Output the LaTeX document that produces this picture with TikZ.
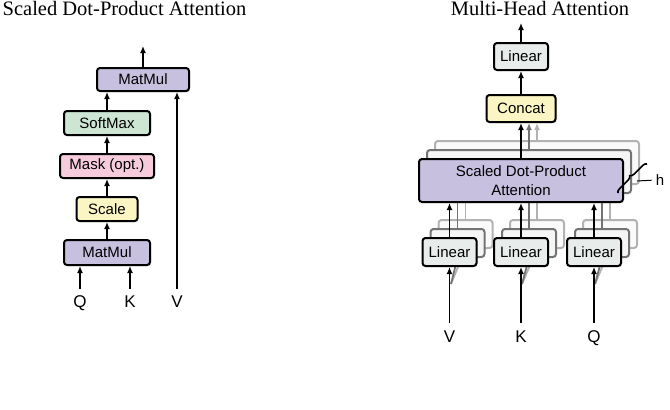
\documentclass[tikz,border=0pt]{standalone}
\usepackage{fontspec}
\setmainfont{Liberation Serif}
\setsansfont{Liberation Sans}
\usepackage{xcolor}
\usepackage{tikz}
\usetikzlibrary{positioning}
\usetikzlibrary{arrows.meta}
\usetikzlibrary{shadows}
\usetikzlibrary{decorations.pathreplacing}

\definecolor{matmulc}{HTML}{C7C0DF}
\definecolor{softmaxc}{HTML}{CDE6D4}
\definecolor{maskc}{HTML}{F6CCDC}
\definecolor{scalec}{HTML}{FBF5C4}
\definecolor{linearc}{HTML}{E8ECEA}

\begin{document}
\begin{tikzpicture}[x=1pt,y=-1pt]

    % Custom styles for boxes, arrows and texts
    \tikzstyle{block} = [draw, line width=2pt, rounded corners=3pt, inner sep=0pt, align=center,
        font=\fontsize{15}{19}\selectfont\sffamily,
        drop shadow={opacity=0.25, shadow xshift=1.2pt, shadow yshift=-1.2pt}]
    \tikzstyle{ghostnear} = [draw=black!55, fill=black!4, line width=2pt, rounded corners=3pt, inner sep=0pt]
    \tikzstyle{ghostfar} = [draw=black!30, fill=black!2, line width=2pt, rounded corners=3pt, inner sep=0pt]
    \tikzstyle{flow} = [-{Latex[length=7pt,width=6pt]}, line width=1.8pt]
    \tikzstyle{letter} = [font=\fontsize{17}{20}\selectfont\sffamily, inner sep=0pt, text height=12pt, text depth=0pt]
    \tikzstyle{title} = [font=\fontsize{20.5}{24}\selectfont, anchor=base]

    \useasboundingbox (0,0) rectangle (670,410);

    % Titles
    \node[title] (ttlleft) at (124.5,15) {Scaled Dot-Product Attention};
    \node[title] (ttlright) at (540,15) {Multi-Head Attention};

    % Define nodes: scaled dot-product attention
    \node[block, fill=matmulc, minimum width=92pt, minimum height=23pt] (matmulb) at (143,79.5) {MatMul};
    \node[block, fill=softmaxc, minimum width=86pt, minimum height=24pt] (softmax) at (107,123) {SoftMax};
    \node[block, fill=maskc, minimum width=94pt, minimum height=24pt] (mask) at (107,166) {Mask (opt.)};
    \node[block, fill=scalec, minimum width=61pt, minimum height=24pt] (scale) at (107,209) {Scale};
    \node[block, fill=matmulc, minimum width=86pt, minimum height=25pt] (matmula) at (107,252.5) {MatMul};
    \node[letter] (q) at (80,301) {Q};
    \node[letter] (k) at (130,301) {K};
    \node[letter] (v) at (177,301) {V};
    \coordinate (outleft) at (143,46);

    % Connect nodes
    \draw[flow, shorten <=6pt] (q.north) -- (q.north |- matmula.south);
    \draw[flow, shorten <=6pt] (k.north) -- (k.north |- matmula.south);
    \draw[flow, shorten <=6pt] (v.north) -- (v.north |- matmulb.south);
    \draw[flow] (matmula) -- (scale);
    \draw[flow] (scale) -- (mask);
    \draw[flow] (mask) -- (softmax);
    \draw[flow] (softmax.north) -- (softmax.north |- matmulb.south);
    \draw[flow] (matmulb) -- (outleft);

    % Define nodes: multi-head attention, far copies first
    \node[ghostfar, minimum width=204pt, minimum height=43pt] (attnfar) at (537,162.5) {};
    \node[ghostfar, minimum width=54pt, minimum height=28pt] (linvfar) at (465.5,234) {};
    \node[ghostfar, minimum width=54pt, minimum height=28pt] (linkfar) at (537,234) {};
    \node[ghostfar, minimum width=54pt, minimum height=28pt] (linqfar) at (610,234) {};
    \draw[flow, black!30] (linvfar) -- (linvfar |- attnfar.south);
    \draw[flow, black!30] (linkfar) -- (linkfar |- attnfar.south);
    \draw[flow, black!30] (linqfar) -- (linqfar |- attnfar.south);

    \node[ghostnear, minimum width=204pt, minimum height=43pt] (attnnear) at (529,171.5) {};
    \node[ghostnear, minimum width=54pt, minimum height=28pt] (linvnear) at (457.5,243) {};
    \node[ghostnear, minimum width=54pt, minimum height=28pt] (linknear) at (529,243) {};
    \node[ghostnear, minimum width=54pt, minimum height=28pt] (linqnear) at (602,243) {};
    \draw[flow, black!55] (linvnear) -- (linvnear |- attnnear.south);
    \draw[flow, black!55] (linknear) -- (linknear |- attnnear.south);
    \draw[flow, black!55] (linqnear) -- (linqnear |- attnnear.south);

    % Inputs fanning out to the copies
    \coordinate (vfork) at (451,284);
    \coordinate (kfork) at (522,284);
    \coordinate (qfork) at (595,284);
    \draw[line width=1.8pt, black!30] (vfork) -- (linvfar.south);
    \draw[line width=1.8pt, black!30] (kfork) -- (linkfar.south);
    \draw[line width=1.8pt, black!30] (qfork) -- (linqfar.south);
    \draw[line width=1.8pt, black!55] (vfork) -- (linvnear.south);
    \draw[line width=1.8pt, black!55] (kfork) -- (linknear.south);
    \draw[line width=1.8pt, black!55] (qfork) -- (linqnear.south);

    % Front copies
    \node[block, fill=matmulc, minimum width=204pt, minimum height=43pt] (attn) at (521,180.5) {Scaled Dot-Product\\Attention};
    \node[block, fill=linearc, minimum width=54pt, minimum height=28pt] (linv) at (449.5,252) {Linear};
    \node[block, fill=linearc, minimum width=54pt, minimum height=28pt] (link) at (521,252) {Linear};
    \node[block, fill=linearc, minimum width=54pt, minimum height=28pt] (linq) at (594,252) {Linear};
    \node[block, fill=scalec, minimum width=69pt, minimum height=27pt] (concat) at (521,108.5) {Concat};
    \node[block, fill=linearc, minimum width=54pt, minimum height=27pt] (lintop) at (521,56.5) {Linear};
    \node[letter] (vin) at (449.5,336) {V};
    \node[letter] (kin) at (521,336) {K};
    \node[letter] (qin) at (594,336) {Q};
    \coordinate (outright) at (521,23);

    % Connect nodes
    \draw[flow, shorten <=7pt] (vin.north) -- (linv.south);
    \draw[flow, shorten <=7pt] (kin.north) -- (link.south);
    \draw[flow, shorten <=7pt] (qin.north) -- (linq.south);
    \draw[flow] (linv) -- (linv |- attn.south);
    \draw[flow] (link) -- (link |- attn.south);
    \draw[flow] (linq) -- (linq |- attn.south);
    \draw[flow, black!30] (attnfar.north -| 537,0) -- (537,0 |- concat.south);
    \draw[flow, black!55] (attnnear.north -| 529,0) -- (529,0 |- concat.south);
    \draw[flow] (attn) -- (concat);
    \draw[flow] (concat) -- (lintop);
    \draw[flow] (lintop) -- (outright);

    % Brace for the h heads
    \draw[decorate, decoration={brace, amplitude=4pt}, line width=1.6pt] (618,193) -- (647,164);
    \coordinate (hbrace) at (637,181);
    \node[font=\fontsize{15}{18}\selectfont\sffamily, inner sep=0pt] (h) at (660,180) {h};
    \draw[line width=1pt, shorten >=4pt] (hbrace) -- (h.west);

\end{tikzpicture}
\end{document}
